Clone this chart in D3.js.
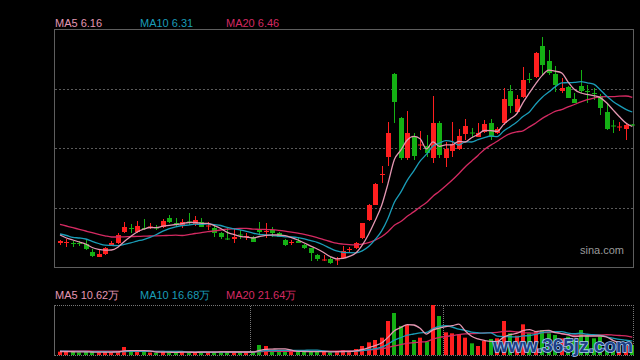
<!DOCTYPE html>
<html><head><meta charset="utf-8">
<script src="https://cdn.jsdelivr.net/npm/d3@7"></script>
<style>html,body{margin:0;padding:0;background:#000;}svg{display:block;}</style>
</head><body>
<svg id="c" width="640" height="360"></svg>
<script>
// ---- data ----
const open  = [5.00,5.00,5.00,5.00,4.99,4.91,4.86,4.89,4.98,5.00,5.11,5.15,5.11,5.15,5.16,5.155,5.16,5.25,5.20,5.18,5.215,5.19,5.21,5.165,5.15,5.10,5.045,5.04,5.085,5.06,5.06,5.14,5.11,5.13,5.10,5.03,5.00,5.02,4.98,4.95,4.88,4.83,4.84,4.83,4.85,4.93,4.95,5.05,5.23,5.38,5.68,5.86,6.69,6.25,5.85,6.06,5.975,5.97,5.85,6.20,5.85,5.92,5.94,6.09,6.105,6.06,6.11,6.20,6.10,6.20,6.52,6.31,6.46,6.64,6.66,6.97,6.82,6.69,6.52,6.56,6.44,6.57,6.52,6.50,6.47,6.31,6.175,6.16,6.14,6.185];
const high  = [5.03,5.04,5.02,5.02,5.04,4.94,4.93,4.96,5.02,5.10,5.21,5.19,5.22,5.24,5.20,5.18,5.24,5.28,5.25,5.24,5.30,5.27,5.25,5.21,5.17,5.11,5.15,5.14,5.13,5.10,5.07,5.21,5.20,5.16,5.11,5.04,5.03,5.05,4.99,4.95,4.89,4.88,4.86,4.86,4.97,4.96,5.01,5.20,5.39,5.60,5.77,6.21,6.70,6.26,6.32,6.10,6.12,6.08,6.47,6.22,6.01,6.21,6.14,6.24,6.15,6.20,6.23,6.24,6.16,6.55,6.58,6.48,6.76,6.70,6.91,7.06,6.93,6.77,6.65,6.57,6.50,6.73,6.58,6.55,6.49,6.40,6.23,6.21,6.20,6.19];
const low   = [4.98,4.96,4.96,4.97,4.93,4.86,4.86,4.88,4.97,4.99,5.10,5.10,5.10,5.13,5.14,5.13,5.15,5.20,5.16,5.15,5.18,5.17,5.16,5.13,5.06,5.04,5.03,5.00,5.04,5.03,5.01,5.08,5.05,5.06,5.06,4.97,4.98,5.00,4.94,4.82,4.82,4.82,4.79,4.78,4.84,4.91,4.94,5.04,5.22,5.38,5.60,5.77,6.20,5.83,5.83,5.83,5.93,5.86,5.80,5.85,5.76,5.86,5.93,6.03,6.06,6.06,6.10,6.03,6.09,6.18,6.30,6.30,6.45,6.60,6.65,6.68,6.68,6.51,6.50,6.45,6.40,6.50,6.40,6.43,6.28,6.13,6.10,6.12,6.03,6.17];
const close = [5.02,5.01,4.99,4.99,4.94,4.87,4.89,4.95,5.00,5.08,5.16,5.14,5.17,5.14,5.165,5.15,5.22,5.21,5.18,5.21,5.205,5.23,5.16,5.175,5.10,5.06,5.035,5.06,5.075,5.07,5.01,5.11,5.12,5.10,5.06,4.98,5.01,5.00,4.95,4.90,4.84,4.835,4.80,4.835,4.92,4.94,5.00,5.20,5.38,5.59,5.69,6.10,6.41,5.85,6.10,5.87,5.985,5.90,6.20,5.88,5.94,5.99,6.07,6.17,6.095,6.10,6.19,6.06,6.14,6.44,6.37,6.44,6.63,6.63,6.90,6.78,6.70,6.58,6.55,6.45,6.40,6.52,6.51,6.49,6.35,6.14,6.165,6.165,6.18,6.175];
const ma5   = [5.08,5.05,5.03,5.01,4.99,4.955,4.936,4.928,4.93,4.958,5.016,5.066,5.11,5.138,5.155,5.153,5.169,5.177,5.185,5.194,5.205,5.207,5.197,5.196,5.174,5.145,5.106,5.086,5.066,5.06,5.05,5.065,5.077,5.082,5.08,5.074,5.054,5.03,5.00,4.968,4.94,4.905,4.865,4.842,4.846,4.866,4.899,4.979,5.088,5.222,5.372,5.592,5.834,5.928,6.03,6.066,6.043,5.941,6.011,5.967,5.981,5.982,6.016,6.01,6.053,6.085,6.125,6.123,6.117,6.186,6.24,6.29,6.404,6.502,6.594,6.676,6.728,6.718,6.702,6.612,6.536,6.50,6.486,6.474,6.454,6.402,6.331,6.262,6.20,6.165];
const ma10  = [5.09,5.075,5.057,5.05,5.04,5.016,4.995,4.978,4.976,4.974,4.986,5.001,5.019,5.034,5.057,5.085,5.118,5.144,5.162,5.175,5.179,5.188,5.187,5.191,5.184,5.175,5.157,5.142,5.131,5.117,5.098,5.086,5.082,5.074,5.07,5.062,5.06,5.054,5.041,5.024,5.007,4.98,4.948,4.921,4.907,4.903,4.902,4.922,4.965,5.034,5.119,5.246,5.407,5.508,5.626,5.719,5.818,5.888,5.97,5.999,6.024,6.013,5.979,6.011,6.01,6.033,6.054,6.07,6.064,6.12,6.163,6.208,6.264,6.31,6.39,6.458,6.509,6.561,6.602,6.603,6.606,6.614,6.602,6.588,6.533,6.469,6.416,6.374,6.337,6.31];
const ma20  = [5.187,5.17,5.153,5.137,5.12,5.103,5.087,5.072,5.06,5.06,5.062,5.064,5.066,5.068,5.07,5.072,5.074,5.076,5.078,5.075,5.083,5.095,5.103,5.113,5.121,5.13,5.138,5.143,5.147,5.146,5.139,5.137,5.135,5.133,5.127,5.119,5.109,5.098,5.086,5.071,5.053,5.033,5.015,4.998,4.989,4.983,4.981,4.988,5.003,5.029,5.063,5.113,5.178,5.215,5.267,5.311,5.36,5.405,5.468,5.517,5.572,5.63,5.693,5.76,5.818,5.876,5.936,5.979,6.017,6.06,6.094,6.111,6.122,6.161,6.20,6.246,6.282,6.316,6.333,6.362,6.385,6.411,6.433,6.449,6.462,6.464,6.463,6.468,6.47,6.457];
// volume in 万
const volume = [4.0,3.6,3.6,3.2,4.0,3.6,3.0,3.6,3.6,4.4,9.6,4.8,4.2,3.6,3.0,2.4,4.2,3.6,3.0,3.6,2.4,3.6,4.2,3.0,3.6,4.2,3.0,4.2,3.0,3.6,4.2,12.0,10.8,4.8,5.4,4.2,3.6,4.2,3.6,4.8,4.2,3.6,3.0,4.2,6.0,4.8,7.2,10.8,15.2,18.0,20.8,40.8,50.4,34.8,36.0,18.0,20.8,16.0,60.0,46.8,27.2,26.0,24.8,20.8,14.0,10.8,16.8,19.2,20.0,40.8,26,23.2,36.8,26,28.8,30,26,24,20,22,18,30,24,20,22,12,10,8.4,10.8,12.0];
const vma5  = [4.2,4.0,3.9,3.8,3.68,3.6,3.48,3.48,3.56,3.64,4.84,5.2,5.32,5.32,5.04,3.6,3.48,3.36,3.24,3.36,3.36,3.24,3.36,3.36,3.36,3.72,3.6,3.6,3.6,3.6,3.6,5.4,6.72,7.08,7.44,7.44,5.76,4.44,4.2,4.08,4.08,4.08,3.84,3.96,4.2,4.32,5.04,6.6,8.8,11.2,14.4,21.12,29.04,32.96,36.56,36,32,25.12,30.16,32.32,34.16,35.2,36.96,29.12,22.56,19.28,17.44,16.32,16.16,21.52,24.56,25.84,29.36,30.56,28.16,28.96,29.52,26.96,25.76,24.4,22,22.8,22.8,22.8,22.8,21.6,17.6,14.48,12.64,10.64];
const vma10 = [4.6,4.5,4.4,4.3,4.2,4.1,4.0,3.9,3.8,3.66,4.22,4.34,4.4,4.44,4.34,4.22,4.34,4.34,4.28,4.2,3.48,3.36,3.36,3.3,3.36,3.54,3.42,3.48,3.48,3.48,3.66,4.5,5.16,5.34,5.52,5.52,5.58,5.58,5.64,5.76,5.76,4.92,4.14,4.08,4.14,4.2,4.56,5.22,6.38,7.7,9.36,13.08,17.82,20.88,23.88,25.2,26.56,27.08,31.56,34.44,35.08,33.6,31.04,29.64,27.44,26.72,26.32,26.64,22.64,22.04,21.92,21.64,22.84,23.36,24.84,26.76,27.68,28.16,28.16,26.28,25.48,26.16,24.88,24.28,23.6,21.8,20.2,18.64,17.72,16.72];
const vma20 = [5.0,4.95,4.9,4.85,4.8,4.75,4.7,4.65,4.6,4.55,4.5,4.45,4.4,4.35,4.3,4.25,4.2,4.1,4.0,3.93,3.85,3.85,3.88,3.87,3.85,3.88,3.88,3.91,3.88,3.84,3.57,3.93,4.26,4.32,4.44,4.53,4.5,4.53,4.56,4.62,4.71,4.71,4.65,4.71,4.83,4.86,5.07,5.4,6.01,6.73,7.56,9.0,10.98,12.48,14.01,14.7,15.56,16.15,18.97,21.07,22.22,23.34,24.43,25.26,25.66,25.96,26.44,26.86,27.1,28.24,28.5,27.62,26.94,26.5,26.14,26.74,27,27.4,25.4,24.16,23.7,23.9,23.86,23.82,24.22,24.28,23.94,23.4,22.94,21.5];
const priceLegend  = [{name:"MA5", value:"6.16"},{name:"MA10", value:"6.31"},{name:"MA20", value:"6.46"}];
const volumeLegend = [{name:"MA5", value:"10.62万"},{name:"MA10", value:"16.68万"},{name:"MA20", value:"21.64万"}];
const priceDomain = [4.75, 7.14];
const volumeDomain = [0, 60];
const monthBreaks = [30, 60];   // vertical dotted separators in the volume panel (between candles)

// ---- styles ----
const UP = "#ff1f1f", DOWN = "#14b014";
const C5 = "#e497b2", C10 = "#1a9db8", C20 = "#d42a62";
const FONT = "'Liberation Sans', Arial, sans-serif";

const svg = d3.select("#c");
svg.append("rect").attr("width",640).attr("height",360).attr("fill","#000");

const idx = d3.range(close.length);
const x = d3.scalePoint().domain(idx).range([60, 632.3]);
const y = d3.scaleLinear().domain(priceDomain).range([268, 29]);
const yv = d3.scaleLinear().domain(volumeDomain).range([355, 305]);

// main panel frame & grid
const grid = [1,2,3].map(k => priceDomain[0] + (priceDomain[1]-priceDomain[0]) * k / 4);
svg.append("g").selectAll("line").data(grid).join("line")
  .attr("x1",55).attr("x2",633)
  .attr("y1",d=>Math.round(y(d))+0.5).attr("y2",d=>Math.round(y(d))+0.5)
  .attr("stroke","#5a5a5a").attr("stroke-dasharray","2,2");
svg.append("rect").attr("x",54.5).attr("y",29.5).attr("width",579).attr("height",238)
  .attr("fill","none").attr("stroke","#5e5e5e");

// candles
const cg = svg.append("g");
const col = i => close[i] >= open[i] ? UP : DOWN;
cg.selectAll("line.w").data(idx).join("line").attr("class","w")
  .attr("x1",i=>Math.round(x(i))+0.5).attr("x2",i=>Math.round(x(i))+0.5)
  .attr("y1",i=>y(high[i])).attr("y2",i=>y(low[i]))
  .attr("stroke",col).attr("stroke-width",1);
cg.selectAll("rect").data(idx).join("rect")
  .attr("x",i=>Math.round(x(i))-2).attr("width",5)
  .attr("y",i=>Math.min(y(open[i]),y(close[i])))
  .attr("height",i=>Math.max(1, Math.abs(y(open[i])-y(close[i]))))
  .attr("fill",col);

// price MA lines
const lineP = d3.line().x((d,i)=>x(i)).y(d=>y(d)).curve(d3.curveMonotoneX);
[[ma20,C20],[ma10,C10],[ma5,C5]].forEach(([arr,c])=>{
  svg.append("path").attr("d",lineP(arr)).attr("fill","none").attr("stroke",c).attr("stroke-width",1.3);
});

// legends
const legX = [55, 140, 226];
svg.append("g").selectAll("text").data(priceLegend).join("text")
  .attr("x",(d,i)=>legX[i]).attr("y",27)
  .attr("fill",(d,i)=>[C5,C10,C20][i]).attr("font-family",FONT).attr("font-size",11)
  .text(d=>d.name+" "+d.value);
svg.append("g").selectAll("text").data(volumeLegend).join("text")
  .attr("x",(d,i)=>legX[i]).attr("y",299)
  .attr("fill",(d,i)=>[C5,C10,C20][i]).attr("font-family",FONT).attr("font-size",11)
  .text(d=>d.name+" "+d.value);

// sina.com
svg.append("text").attr("x",624).attr("y",254).attr("text-anchor","end")
  .attr("fill","#9a9a9a").attr("font-family",FONT).attr("font-size",11).text("sina.com");

// volume panel frame
const vb = svg.append("g");
vb.append("line").attr("x1",55).attr("x2",634).attr("y1",305.5).attr("y2",305.5).attr("stroke","#777").attr("stroke-dasharray","1,1");
vb.append("line").attr("x1",55).attr("x2",634).attr("y1",355.5).attr("y2",355.5).attr("stroke","#777").attr("stroke-dasharray","1,1");
vb.append("line").attr("x1",633.5).attr("x2",633.5).attr("y1",305).attr("y2",356).attr("stroke","#777").attr("stroke-dasharray","1,1");
vb.append("line").attr("x1",54.5).attr("x2",54.5).attr("y1",305).attr("y2",356).attr("stroke","#666");
vb.selectAll("line.m").data(monthBreaks).join("line").attr("class","m")
  .attr("x1",d=>Math.round((x(d-1)+x(d))/2)+0.5).attr("x2",d=>Math.round((x(d-1)+x(d))/2)+0.5)
  .attr("y1",306).attr("y2",355).attr("stroke","#777").attr("stroke-dasharray","1,1");

// volume bars
svg.append("g").selectAll("rect").data(idx).join("rect")
  .attr("x",i=>Math.round(x(i))-2).attr("width",4)
  .attr("y",i=>yv(volume[i])).attr("height",i=>yv(0)-yv(volume[i]))
  .attr("fill",col);

const lineV = d3.line().x((d,i)=>x(i)).y(d=>yv(d)).curve(d3.curveMonotoneX);
[[vma20,C20],[vma10,C10],[vma5,C5]].forEach(([arr,c])=>{
  svg.append("path").attr("d",lineV(arr)).attr("fill","none").attr("stroke",c).attr("stroke-width",1.3);
});

// site watermark
svg.append("text").attr("x",633).attr("y",352).attr("text-anchor","end")
  .attr("font-family",FONT).attr("font-size",19).attr("font-weight","bold")
  .attr("fill","#1c3f86").attr("stroke","#a8c8f0").attr("stroke-width",1.6).attr("paint-order","stroke")
  .text("www.365jz.com");
</script>
</body></html>
